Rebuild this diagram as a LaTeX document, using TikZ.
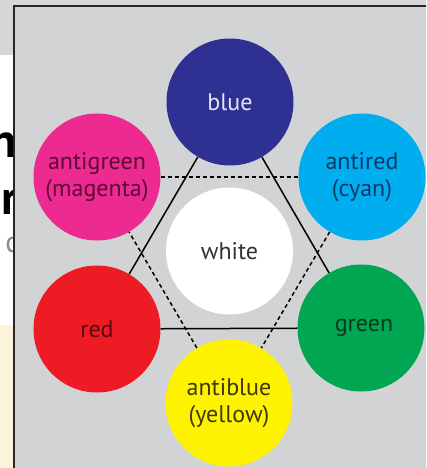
\documentclass[tikz,border=0pt]{standalone}
\usepackage{fontspec}
\setmainfont{PT Sans}
\definecolor{panelgray}{HTML}{D2D3D5}
\definecolor{topgray}{HTML}{D6D6D6}
\definecolor{cream}{HTML}{FDF2DA}
\definecolor{cblue}{HTML}{2E3192}
\definecolor{cmagenta}{HTML}{EC2A90}
\definecolor{ccyan}{HTML}{00AEEF}
\definecolor{cred}{HTML}{ED1C24}
\definecolor{cgreen}{HTML}{00A651}
\definecolor{cyellow}{HTML}{FFF200}
\definecolor{tblue}{HTML}{E4E4F6}
\definecolor{tmagenta}{HTML}{5E0A38}
\definecolor{tcyan}{HTML}{0B3A66}
\definecolor{tred}{HTML}{5A0A0C}
\definecolor{tgreen}{HTML}{073A1C}
\definecolor{tyellow}{HTML}{3E3A08}
\definecolor{twhite}{HTML}{333333}
\begin{document}
\begin{tikzpicture}[x=1pt,y=-1pt,
  disc/.style={circle,minimum size=127pt,inner sep=0pt,align=center,
    font=\fontsize{24}{27}\selectfont},
  fragment/.style={inner sep=0pt,font=\fontsize{48}{48}\selectfont\bfseries},
  solidlink/.style={line width=1.5pt,black},
  dashlink/.style={line width=1.5pt,black,dash pattern=on 4pt off 3pt}]
\useasboundingbox (0,0) rectangle (426,468);
\clip (0,0) rectangle (426,468);
\fill[white] (0,0) rectangle (426,468);
\fill[topgray] (0,0) rectangle (426,10);
\fill[topgray] (0,0) rectangle (16,55);
\fill[cream] (0,325) rectangle (16,468);
% cut-off letters of the neighbouring page
\node[fragment,anchor=base east] (fn) at (17,157) {n};
\node[fragment,anchor=base east] (fr) at (19,214) {r};
\node[fragment,anchor=base east,text=black!45,font=\fontsize{30}{30}\selectfont] (fc) at (19,252) {c};
% panel
\draw[line width=2.2pt,draw=black!85,fill=panelgray] (14,6) rectangle (440,480);
% circles
\node[disc,fill=cblue,text=tblue]       (blue)  at (230,102) {blue};
\node[disc,fill=ccyan,text=tcyan]       (cyan)  at (362,177) {antired\\(cyan)};
\node[disc,fill=cgreen,text=tgreen]     (green) at (361,328) {\hspace*{6pt}green};
\node[disc,fill=cyellow,text=tyellow]   (yellow) at (229,403) {antiblue\\(yellow)};
\node[disc,fill=cred,text=tred]         (red)   at (97,329) {red};
\node[disc,fill=cmagenta,text=tmagenta] (magenta) at (97,177) {antigreen\\(magenta)};
\node[disc,fill=white,text=twhite]      (white) at (229.5,251) {white};
% connectors
\draw[solidlink] (blue) -- (green);
\draw[solidlink] (green) -- (red);
\draw[solidlink] (red) -- (blue);
\draw[dashlink] (magenta) -- (cyan);
\draw[dashlink] (cyan) -- (yellow);
\draw[dashlink] (yellow) -- (magenta);
\end{tikzpicture}
\end{document}
